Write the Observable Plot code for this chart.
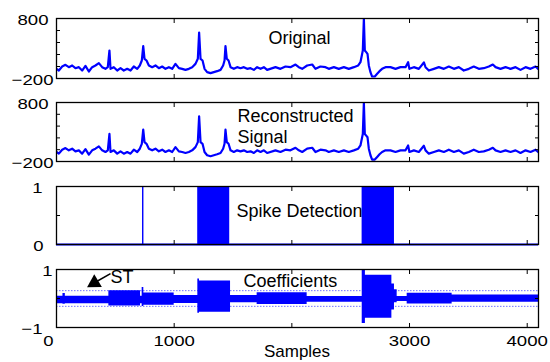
<!DOCTYPE html>
<html><head><meta charset="utf-8">
<script src="https://cdn.jsdelivr.net/npm/d3@7"></script>
<script src="https://cdn.jsdelivr.net/npm/@observablehq/plot@0.6"></script>
<style>
body{margin:0;background:#fff;}
#wrap{position:relative;width:550px;height:362px;overflow:hidden;font-family:"Liberation Sans",Arial,sans-serif;background:#fff;}
#wrap svg{position:absolute;left:0;overflow:visible;background:transparent;}
#xlabel{position:absolute;left:0;width:594px;text-align:center;font-size:17px;line-height:17px;top:343px;color:#000;}
</style></head><body><div id="wrap"><div id="xlabel">Samples</div></div>
<script>
// ---------- data ----------
const signalSamples = [0,20,48,76,105,133,161,190,218,246,275,303,331,360,388,416,436,450,459,487,516,544,572,601,629,657,686,708,725,737,748,765,785,813,841,870,898,926,955,983,1011,1040,1068,1096,1125,1153,1181,1201,1212,1224,1241,1258,1280,1309,1337,1365,1394,1416,1428,1436,1447,1462,1479,1507,1535,1564,1592,1620,1649,1677,1705,1734,1762,1790,1861,1903,1946,1988,2031,2059,2088,2130,2173,2201,2243,2286,2314,2357,2399,2442,2484,2527,2564,2583,2603,2612,2620,2632,2643,2654,2668,2682,2705,2725,2745,2767,2796,2838,2881,2923,2966,2988,2999,3037,3079,3122,3136,3164,3207,3249,3292,3334,3377,3419,3461,3504,3546,3589,3631,3674,3708,3731,3773,3816,3858,3901,3943,3986,4028,4071,4093];
const originalValues = [-39,-67,0,28,-11,17,-28,-11,-67,11,-83,-11,17,56,-11,-39,-11,267,-39,-11,-67,-28,-67,-39,-67,0,-39,17,100,339,128,100,17,-11,17,-28,0,-39,-11,-39,44,-28,-39,-56,-39,-11,44,128,567,128,100,-39,-94,-111,-94,-78,-56,17,100,339,128,100,-11,-39,-11,-28,-11,-39,-28,-56,-11,-39,-11,-56,-11,-39,0,-11,33,-11,-39,17,33,-39,0,-11,-39,-11,-39,-11,-39,-11,17,72,267,800,267,239,211,17,-94,-167,-167,-122,-78,-39,-11,-11,-39,-11,-11,72,-39,-11,-39,67,-11,-67,-39,-11,-39,0,-39,-11,-67,-39,0,-39,-28,0,33,-11,-39,-11,-39,-11,-56,-11,-39,0,-39];
const reconstructedValues = [...originalValues]; // reads identical to the original in the picture

const detectionStart = [731, 1200, 2597];
const detectionEnd   = [743, 1472, 2872];

const coefSamples = [0, 8, 55, 75, 445, 714, 728, 742, 1000, 1201, 1215, 1479, 1705, 2130, 2598, 2625, 2850, 2872, 2895, 2980, 3362, 4096];
const coefUpper   = [1.0, 0.08, 0.17, 0.08, 0.27, 0.08, 0.38, 0.19, 0.1, 0.67, 0.6, 0.1, 0.2, 0.07, 0.98, 0.8, 0.5, 0.3, 0.07, 0.18, 0.12, 0.12];
const coefLower   = [-0.18, -0.18, -0.2, -0.18, -0.26, -0.18, -0.28, -0.23, -0.17, -0.51, -0.47, -0.15, -0.21, -0.13, -0.86, -0.68, -0.4, -0.15, -0.1, -0.19, -0.13, -0.13];
const thresholds  = [0.27, -0.27];

const signalTicks = [-200, 0, 200, 400, 600, 800];
const detectionTicks = [0, 0.5, 1];
const coefTicks = [-1, 0, 1];
const xTicks = [1000, 2000, 3000, 4000];
const xTickLabels = [1000, 3000, 4000];

const panelTitles = ["Original", "Reconstructed", "Signal", "Spike Detection", "Coefficients", "ST"];
const titleX = [1802, 1538, 1538, 1530, 1589, 459];
const titleY = [475, 571, 207, 0.57, 0.58, 0.73];
const stArrow = {x1: 459, y1: 0.86, x2: 330, y2: 0.56, tipX: 322, tipY: 0.54};

// ---------- build ----------
const BLUE = "#0000ff";
const FONT = '"Liberation Sans", Arial, sans-serif';
const fmt = d => d < 0 ? "\u2212" + Math.abs(d) : String(d);

const original = signalSamples.map((s, i) => ({s, v: originalValues[i]}));
const reconstructed = signalSamples.map((s, i) => ({s, v: reconstructedValues[i]}));
const detection = detectionStart.map((a, i) => ({a, b: detectionEnd[i]}));
const coef = coefSamples.map((s, i) => ({s, hi: coefUpper[i], lo: coefLower[i]}));
const titles = panelTitles.map((t, i) => ({t, x: titleX[i], y: titleY[i]}));

function frameMarks(yTicks) {
  return [
    Plot.frame({stroke: "black", strokeWidth: 1.3}),
    Plot.axisY(yTicks, {anchor: "left", tickSize: 4, dx: 4, fill: "none", label: null}),
    Plot.axisY(yTicks, {anchor: "right", tickSize: 4, dx: -4, fill: "none", label: null}),
    Plot.axisX(xTicks, {anchor: "bottom", tickSize: 4, dy: -4, fill: "none", label: null}),
    Plot.axisX(xTicks, {anchor: "top", tickSize: 4, dy: 4, fill: "none", label: null})
  ];
}
function yLabel(v, pad) {
  return Plot.axisY([v], {anchor: "left", tickSize: 0, tickPadding: pad, dy: 2, tickFormat: fmt, label: null, fill: "black"});
}
function panel(opts) {
  return Plot.plot({
    width: 550, height: opts.height, marginLeft: 56, marginRight: 12,
    marginTop: opts.marginTop, marginBottom: opts.marginBottom,
    style: {fontFamily: FONT, fontSize: "15px", background: "transparent", overflow: "visible"},
    x: {domain: [0, 4096], label: null},
    y: {domain: opts.yDomain, label: null},
    marks: opts.marks
  });
}
function titleMarks(idx) {
  return Plot.text(titles.filter((d, i) => idx.includes(i)), {x: "x", y: "y", text: "t", textAnchor: "start", lineAnchor: "middle", fontSize: 18, fill: "black", fontFamily: FONT});
}

const p1 = panel({height: 90, marginTop: 18, marginBottom: 12, yDomain: [-200, 800], marks: [
  Plot.line(original, {x: "s", y: "v", stroke: BLUE, strokeWidth: 2.2, clip: true}),
  titleMarks([0]),
  ...frameMarks(signalTicks),
  yLabel(800, 8), yLabel(-200, 3)
]});
const p2 = panel({height: 84, marginTop: 12, marginBottom: 13, yDomain: [-200, 800], marks: [
  Plot.line(reconstructed, {x: "s", y: "v", stroke: BLUE, strokeWidth: 2.2, clip: true}),
  titleMarks([1, 2]),
  ...frameMarks(signalTicks),
  yLabel(800, 8), yLabel(-200, 3)
]});
const p3 = panel({height: 83, marginTop: 12, marginBottom: 13, yDomain: [0, 1], marks: [
  Plot.rect(detection, {x1: "a", x2: "b", y1: () => 0, y2: () => 1, fill: BLUE}),
  Plot.ruleY([0], {stroke: BLUE, strokeWidth: 2}),
  titleMarks([3]),
  ...frameMarks(detectionTicks),
  yLabel(1, 14), yLabel(0, 13)
]});
const p4 = panel({height: 105, marginTop: 12, marginBottom: 35, yDomain: [-1, 1], marks: [
  Plot.ruleY(thresholds, {stroke: "#7070ff", strokeWidth: 1, strokeDasharray: "1.5,1.5"}),
  Plot.areaY(coef, {x: "s", y1: "lo", y2: "hi", fill: BLUE, curve: "step-after"}),
  titleMarks([4, 5]),
  Plot.link([stArrow], {x1: "x1", y1: "y1", x2: "x2", y2: "y2", stroke: "black", strokeWidth: 1.5}),
  Plot.dot([stArrow], {x: "tipX", y: "tipY", symbol: "triangle", r: 5.5, rotate: 239, fill: "black", stroke: "none"}),
  ...frameMarks(coefTicks),
  yLabel(1, 4), yLabel(-1, 14),
  Plot.axisX(xTickLabels, {anchor: "bottom", tickSize: 0, tickPadding: 8, tickFormat: fmt, label: null, fill: "black"}),
  Plot.axisX([0], {anchor: "bottom", tickSize: 0, tickPadding: 8, dx: -8, tickFormat: fmt, label: null, fill: "black"})
]});

const wrap = document.getElementById("wrap");
[[p1, 0], [p2, 90], [p3, 174], [p4, 257]].forEach(([svg, top]) => {
  svg.style.top = top + "px";
  wrap.appendChild(svg);
});
document.querySelectorAll('g[aria-label="y-axis tick label"] text, g[aria-label="x-axis tick label"] text').forEach(t => {
  const L = t.getComputedTextLength();
  t.setAttribute("textLength", (L * 1.24).toFixed(1));
  t.setAttribute("lengthAdjust", "spacingAndGlyphs");
});
</script>
</body></html>
